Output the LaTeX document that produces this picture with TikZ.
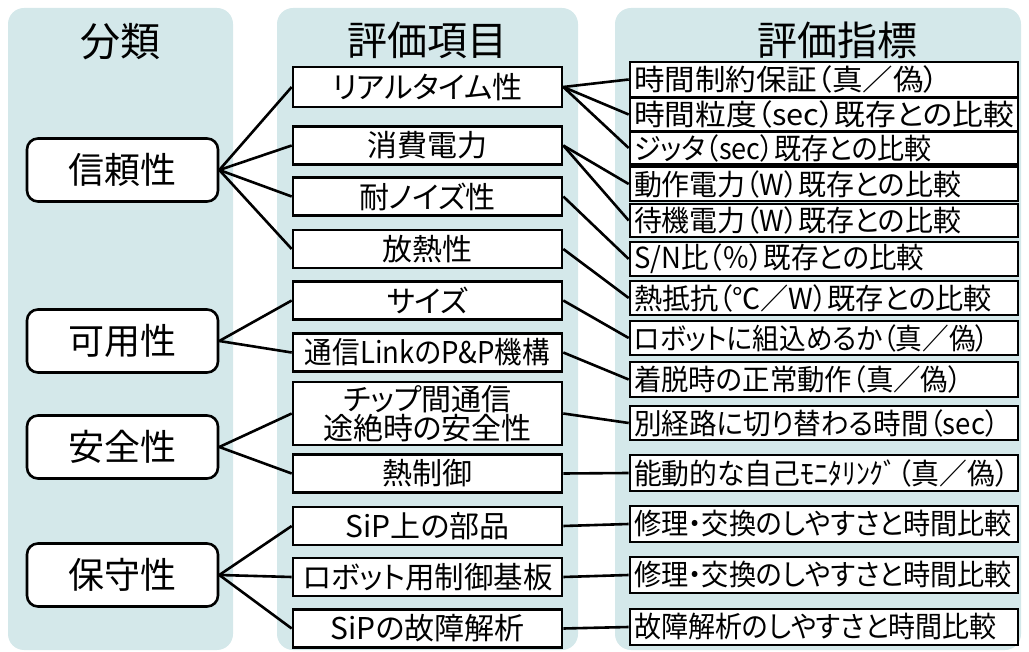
\documentclass[tikz,border=0pt]{standalone}
\usepackage{graphicx}
\usepackage{fontspec}
\setmainfont{Noto Sans CJK JP}[RawFeature={+palt}]
\definecolor{colbg}{HTML}{D4E8EA}
\newcommand{\fitw}[2]{\resizebox{#1pt}{\height}{#2}}
\tikzset{
  colbox/.style={fill=colbg, draw=none, rounded corners=16pt},
  hdr/.style={font=\fontsize{40}{44}\selectfont, inner sep=0pt},
  catbox/.style={draw=black, line width=2.6pt, fill=white, rounded corners=11pt,
    minimum width=191pt, minimum height=63pt, inner sep=0pt,
    font=\fontsize{36}{40}\selectfont},
  itembox/.style={draw=black, line width=2.6pt, fill=white,
    minimum width=269pt, minimum height=38pt, inner sep=0pt,
    font=\fontsize{30}{29}\selectfont, align=center},
  metbox/.style={draw=black, line width=2.6pt, fill=white,
    text width=380pt, inner xsep=4pt, inner ysep=0pt,
    minimum height=34pt, align=left,
    font=\fontsize{29}{32}\selectfont},
  conn/.style={draw=black, line width=2.6pt}
}
\begin{document}
\begin{tikzpicture}[x=1pt,y=-1pt]
\useasboundingbox (0,0) rectangle (1029,652);
% column backgrounds
\fill[colbox] (8,8) rectangle (233,650);
\fill[colbox] (277,8) rectangle (578,650);
\fill[colbox] (615,8) rectangle (1021,650);
% headers
\node[hdr] (h1) at (120,42) {分類};
\node[hdr] (h2) at (427,40) {評価項目};
\node[hdr] (h3) at (837,40) {評価指標};
% categories
\node[catbox] (c1) at (122.5,170) {信頼性};
\node[catbox] (c2) at (122.5,341) {可用性};
\node[catbox] (c3) at (122.5,447) {安全性};
\node[catbox] (c4) at (122.5,575) {保守性};
% items
\node[itembox, minimum height=40pt] (m1) at (427.5,87) {リアルタイム性};
\node[itembox] (m2) at (427.5,145.5) {消費電力};
\node[itembox] (m3) at (427.5,196.5) {耐ノイズ性};
\node[itembox] (m4) at (427.5,249) {放熱性};
\node[itembox] (m5) at (427.5,300.5) {サイズ};
\node[itembox] (m6) at (427.5,352.5) {\fitw{245}{通信LinkのP\&P機構}};
\node[itembox, minimum height=63pt] (m7) at (427.5,413.5) {チップ間通信\\途絶時の安全性};
\node[itembox] (m8) at (427.5,473.5) {熱制御};
\node[itembox] (m9) at (427.5,526) {SiP上の部品};
\node[itembox] (m10) at (427.5,577) {\fitw{250}{ロボット用制御基板}};
\node[itembox] (m11) at (427.5,628.5) {SiPの故障解析};
% metrics
\node[metbox, minimum height=35pt] (r1) at (824,79.5) {\fitw{305}{時間制約保証（真／偽）}};
\node[metbox, minimum height=33pt] (r2) at (824,114.5) {\fitw{380}{時間粒度（sec）既存との比較}};
\node[metbox, minimum height=33pt] (r3) at (824,148) {\fitw{298}{ジッタ（sec）既存との比較}};
\node[metbox] (r4) at (824,184) {\fitw{327}{動作電力（W）既存との比較}};
\node[metbox, minimum height=33pt] (r5) at (824,220.5) {\fitw{327}{待機電力（W）既存との比較}};
\node[metbox] (r6) at (824,259) {\fitw{290}{S/N比（％）既存との比較}};
\node[metbox] (r7) at (824,298) {\fitw{358}{熱抵抗（℃／W）既存との比較}};
\node[metbox] (r8) at (824,338) {\fitw{355}{ロボットに組込めるか（真／偽）}};
\node[metbox, minimum height=35pt] (r9) at (824,379.5) {\fitw{328}{着脱時の正常動作（真／偽）}};
\node[metbox] (r10) at (824,423) {\fitw{365}{別経路に切り替わる時間（sec）}};
\node[metbox, minimum height=36pt] (r11) at (824,473) {\fitw{375}{能動的な自己ﾓﾆﾀﾘﾝｸﾞ（真／偽）}};
\node[metbox, minimum height=36pt] (r12) at (824,524) {\fitw{378}{修理・交換のしやすさと時間比較}};
\node[metbox, minimum height=36pt] (r13) at (824,575) {\fitw{378}{修理・交換のしやすさと時間比較}};
\node[metbox, minimum height=36pt] (r14) at (824,627) {\fitw{363}{故障解析のしやすさと時間比較}};
% connectors category -> item
\foreach \m in {m1,m2,m3,m4} \draw[conn] (c1.east) -- (\m.west);
\foreach \m in {m5,m6} \draw[conn] (c2.east) -- (\m.west);
\foreach \m in {m7,m8} \draw[conn] (c3.east) -- (\m.west);
\foreach \m in {m9,m10,m11} \draw[conn] (c4.east) -- (\m.west);
% connectors item -> metric
\foreach \r in {r1,r2,r3} \draw[conn] (m1.east) -- (\r.west);
\foreach \r in {r4,r5} \draw[conn] (m2.east) -- (\r.west);
\draw[conn] (m3.east) -- (r6.west);
\draw[conn] (m4.east) -- (r7.west);
\draw[conn] (m5.east) -- (r8.west);
\draw[conn] (m6.east) -- (r9.west);
\draw[conn] (m7.east) -- (r10.west);
\draw[conn] (m8.east) -- (r11.west);
\draw[conn] (m9.east) -- (r12.west);
\draw[conn] (m10.east) -- (r13.west);
\draw[conn] (m11.east) -- (r14.west);
\end{tikzpicture}
\end{document}
